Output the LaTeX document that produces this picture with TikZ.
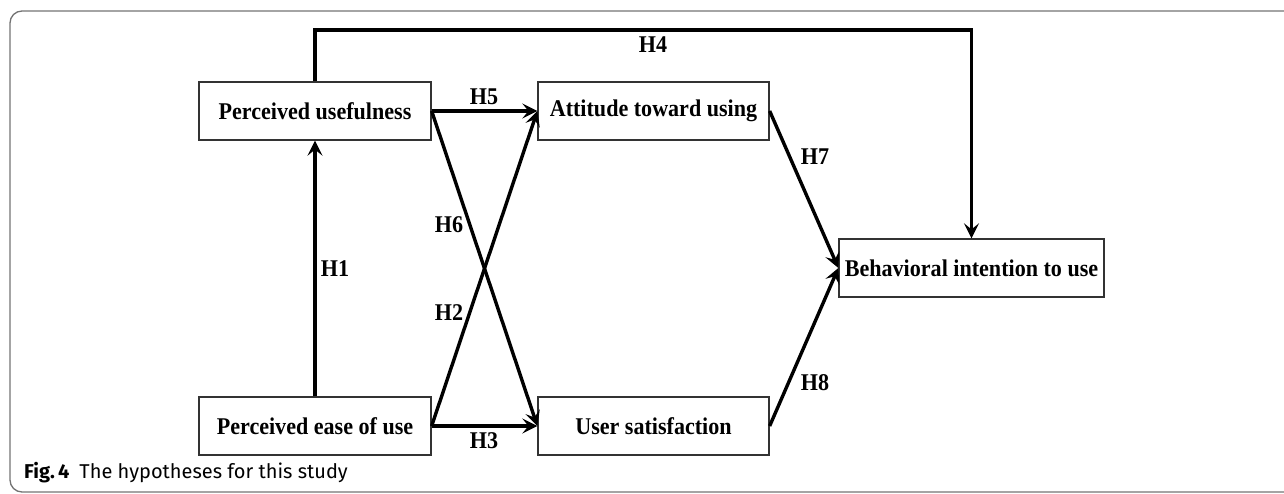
\documentclass[tikz,border=0pt]{standalone}
\usepackage{fontspec}
\setmainfont{Liberation Serif}[FakeStretch=0.92]
\newfontfamily\capfont{Fira Sans}
\usetikzlibrary{arrows.meta}
\begin{document}
\begin{tikzpicture}[x=1pt,y=-1pt,>={Stealth[length=15pt,width=15pt,inset=6pt]}]
    \tikzstyle{construct}=[draw=black!80,line width=1.3pt,minimum height=58pt,inner sep=0pt,font=\fontsize{24}{28}\selectfont\bfseries]
    \tikzstyle{hypo}=[draw,line width=3.4pt,->]
    \tikzstyle{hypo label}=[inner sep=0pt,font=\fontsize{24}{28}\selectfont\bfseries]
    \useasboundingbox (0,0) rectangle (1284,494);
    \draw [black!55, line width=1.3pt, rounded corners=12pt] (1300,11) -- (10,11) -- (10,492) -- (1300,492);
    \node[construct,minimum width=232pt] (PU) at (315,111) {Perceived usefulness};
    \node[construct,minimum width=232pt] (PEOU) at (315,426) {Perceived ease of use};
    \node[construct,minimum width=231pt] (ATU) at (653.5,111) {Attitude toward using};
    \node[construct,minimum width=231pt] (US) at (653.5,426) {User satisfaction};
    \node[construct,minimum width=265pt] (BI) at (971.5,268) {Behavioral intention to use};
    \coordinate (H4_bend) at (971.5,30);
    \draw [hypo] (PEOU.north) -- (PU.south);
    \draw [hypo] (PEOU.east) -- (ATU.west);
    \draw [hypo] (PEOU.east) -- (US.west);
    \draw [hypo] (PU.north) |- (H4_bend) -- (BI.north);
    \draw [hypo] (PU.east) -- (ATU.west);
    \draw [hypo] (PU.east) -- (US.west);
    \draw [hypo] (ATU.east) -- (BI.west);
    \draw [hypo] (US.east) -- (BI.west);
    \node[hypo label] (L_1) at (335,269) {H1};
    \node[hypo label] (L_2) at (449,313) {H2};
    \node[hypo label] (L_3) at (484,441) {H3};
    \node[hypo label] (L_4) at (653,45) {H4};
    \node[hypo label] (L_5) at (484,97) {H5};
    \node[hypo label] (L_6) at (449,225) {H6};
    \node[hypo label] (L_7) at (815,157) {H7};
    \node[hypo label] (L_8) at (815,383) {H8};
    \node[anchor=base west,inner sep=0pt,font=\capfont\fontsize{20}{24}\selectfont] (caption) at (24,478) {\textbf{Fig.\,4}\hspace{10pt}The hypotheses for this study};
  \end{tikzpicture}
\end{document}
